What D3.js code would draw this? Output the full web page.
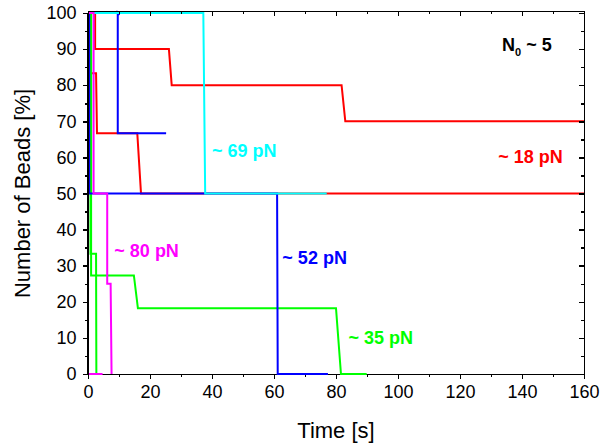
<!DOCTYPE html>
<html lang="en">
	<head>
		<meta charset="utf-8">
		<title>beads</title>
		<script src="https://cdn.jsdelivr.net/npm/d3@7"></script>
		<style type="text/css">
		body { margin: 0; background: #fff; }
		.axis path,
		.axis line {
			fill: none;
			stroke: #000;
			stroke-width: 1.5px;
			shape-rendering: crispEdges;
		}
		.axis text {
			font-family: "Liberation Sans", Arial, sans-serif;
			font-size: 18px;
			fill: #000;
		}
		.trace {
			fill: none;
			stroke-width: 2px;
			stroke-linejoin: miter;
		}
		.note {
			font-family: "Liberation Sans", Arial, sans-serif;
			font-weight: bold;
			font-size: 18px;
		}
		.title {
			font-family: "Liberation Sans", Arial, sans-serif;
			font-size: 22px;
		}
		</style>
	</head>
	<body>
		<script type="text/javascript">
		// bead traces: [time in s, beads remaining in %]
		var red18a = [[0,100],[2.3,100],[2.3,90],[26.1,90],[27.0,80],[81.8,80],[83.0,70],[160,70]];
		var red18b = [[0,100],[0.6,100],[0.6,83.3],[2.6,83.3],[2.9,66.7],[15.9,66.7],[17.1,50],[160,50]];
		var green35a = [[0,100],[0.8,100],[0.8,33.3],[2.6,33.3],[2.7,0]];
		var green35b = [[0,100],[1.0,100],[1.0,27.3],[14.8,27.3],[16.1,18.2],[80.0,18.2],[81.6,0],[89.9,0]];
		var blue52a = [[10.1,99.4],[9.6,100],[9.6,66.7],[25.2,66.7]];
		var blue52b = [[0.4,100],[0.4,50],[61.0,50],[61.2,0],[77.4,0]];
		var cyan69 = [[0,100],[37.2,100],[37.8,50],[77.0,50]];
		var magenta80a = [[0,100],[1.8,100],[1.8,50],[6.2,50],[6.2,25],[7.3,25],[7.6,0]];
		var magenta80b = [[0,0],[4.7,0]];

		var xTicks = [0,20,40,60,80,100,120,140,160];
		var yTicks = [0,10,20,30,40,50,60,70,80,90,100];

		var margin = {top: 13, right: 16, bottom: 72, left: 88},
		    width = 600 - margin.left - margin.right,
		    height = 446 - margin.top - margin.bottom;

		var svg = d3.select("body").append("svg")
					.attr("width", 600)
					.attr("height", 446)
					.append("g")
					.attr("transform", "translate(" + margin.left + "," + margin.top + ")");

		var x = d3.scaleLinear().domain([0, 160]).range([0, width]);
		var y = d3.scaleLinear().domain([0, 100]).range([height, 0]);

		var line = d3.line()
					.x(function(d) { return x(d[0]); })
					.y(function(d) { return y(d[1]); });

		var xMinor = d3.range(10, 160, 20);
		var yMinor = d3.range(5, 100, 10);

		// minor ticks only, no axis line
		function minor(g) { g.select(".domain").remove(); }

		// bottom axis goes first so the traces at 0 % sit on it
		svg.append("g").attr("class", "axis")
			.attr("transform", "translate(0," + height + ")")
			.call(d3.axisBottom(x).tickValues(xMinor).tickSize(3).tickFormat(""))
			.call(minor);
		svg.append("g").attr("class", "axis")
			.attr("transform", "translate(0," + height + ")")
			.call(d3.axisBottom(x).tickValues(xTicks).tickSize(5).tickPadding(6).tickSizeOuter(0));

		// red under blue under cyan, magenta on top
		var traces = [
			{data: red18a, color: "#ff0000"},
			{data: red18b, color: "#ff0000"},
			{data: green35a, color: "#00ff00"},
			{data: green35b, color: "#00ff00"},
			{data: blue52a, color: "#0000ff"},
			{data: blue52b, color: "#0000ff"},
			{data: cyan69, color: "#00ffff"},
			{data: magenta80a, color: "#ff00ff"},
			{data: magenta80b, color: "#ff00ff"}
		];

		svg.selectAll(".trace")
			.data(traces)
			.enter().append("path")
			.attr("class", "trace")
			.attr("d", function(d) { return line(d.data); })
			.style("stroke", function(d) { return d.color; });

		// remaining frame: left with labels, top and right mirrored inward
		svg.append("g").attr("class", "axis")
			.attr("transform", "translate(0,-2)")
			.call(d3.axisTop(x).tickValues(xMinor).tickSize(-3).tickFormat(""))
			.call(minor);
		svg.append("g").attr("class", "axis")
			.call(d3.axisLeft(y).tickValues(yMinor).tickSize(3).tickFormat(""))
			.call(minor);
		svg.append("g").attr("class", "axis")
			.attr("transform", "translate(" + width + ",0)")
			.call(d3.axisRight(y).tickValues(yMinor).tickSize(-3).tickFormat(""))
			.call(minor);
		svg.append("g").attr("class", "axis")
			.attr("transform", "translate(0,-2)")
			.call(d3.axisTop(x).tickValues(xTicks).tickSize(-5).tickFormat("").tickSizeOuter(0));
		svg.append("g").attr("class", "axis")
			.attr("transform", "translate(-0.5,0)")
			.call(d3.axisLeft(y).tickValues(yTicks).tickSize(5).tickPadding(6).tickSizeOuter(0));
		svg.append("g").attr("class", "axis")
			.attr("transform", "translate(" + width + ",0)")
			.call(d3.axisRight(y).tickValues(yTicks).tickSize(-5).tickFormat("").tickSizeOuter(0));

		// axis titles
		svg.append("text")
			.attr("class", "title")
			.attr("x", width / 2)
			.attr("y", height + 64)
			.attr("text-anchor", "middle")
			.text("Time [s]");

		svg.append("text")
			.attr("class", "title")
			.attr("transform", "rotate(-90)")
			.attr("x", -height / 2)
			.attr("y", -58)
			.attr("text-anchor", "middle")
			.text("Number of Beads [%]");

		// force labels
		var notes = [
			{t: "~ 69 pN", x: 40, y: 60, color: "#00ffff"},
			{t: "~ 18 pN", x: 132.3, y: 58.5, color: "#ff0000"},
			{t: "~ 80 pN", x: 8.5, y: 32.5, color: "#ff00ff"},
			{t: "~ 52 pN", x: 62.7, y: 30.5, color: "#0000ff"},
			{t: "~ 35 pN", x: 84, y: 8.3, color: "#00ff00"}
		];
		svg.selectAll(".note")
			.data(notes)
			.enter().append("text")
			.attr("class", "note")
			.attr("x", function(d) { return x(d.x); })
			.attr("y", function(d) { return y(d.y); })
			.style("fill", function(d) { return d.color; })
			.text(function(d) { return d.t; });

		var n0 = svg.append("text")
			.attr("class", "note")
			.attr("x", 414)
			.attr("y", 38)
			.style("fill", "#000");
		n0.append("tspan").text("N");
		n0.append("tspan").attr("dy", 5).style("font-size", "11px").text("0");
		n0.append("tspan").attr("dy", -5).text(" ~ 5");
		</script>
	</body>
</html>
